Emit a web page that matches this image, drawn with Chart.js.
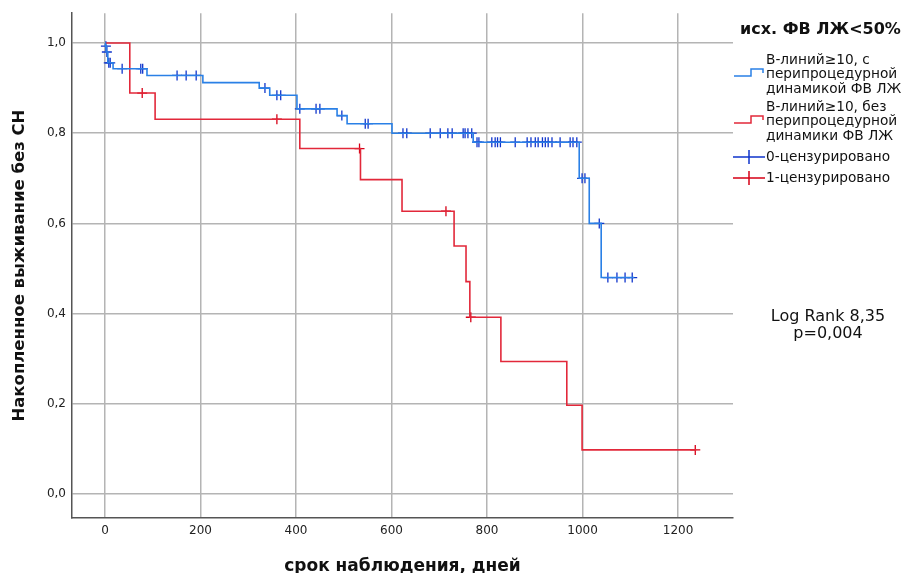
<!DOCTYPE html>
<html><head><meta charset="utf-8">
<script src="https://cdn.jsdelivr.net/npm/chart.js@4/dist/chart.umd.min.js"></script>
<style>html,body{margin:0;padding:0;background:#fff;}#wrap{width:905px;height:573px;}</style>
</head><body><div id="wrap"><canvas id="c" width="905" height="573"></canvas></div>
<script>
// ---- data ----
const xTicks = [0, 200, 400, 600, 800, 1000, 1200];
const yTicks = [0.0, 0.2, 0.4, 0.6, 0.8, 1.0];

const blueEventDays = [0, 1, 3, 6, 17, 88, 205, 323, 345, 402, 486, 507, 601, 771, 993, 1014, 1039];
const blueEventSurv = [1.0, 0.993, 0.98, 0.956, 0.943, 0.928, 0.912, 0.90, 0.884, 0.854, 0.839, 0.821, 0.80, 0.78, 0.70, 0.60, 0.48];
const blueEndDay = 1108;
const blueCensorDays = [2, 4, 8, 11, 36, 75, 79, 151, 170, 191, 335, 360, 368, 408, 442, 450, 496, 545, 551,
  624, 632, 681, 702, 718, 727, 750, 754, 760, 768,
  779, 783, 810, 817, 822, 828, 859, 884, 892, 901, 907, 916, 922, 928, 936, 953, 974, 980, 988,
  999, 1005, 1035, 1053, 1072, 1089, 1104];

const redEventDays = [0, 52, 105, 408, 535, 622, 731, 756, 764, 829, 967, 999];
const redEventSurv = [1.0, 0.889, 0.831, 0.766, 0.697, 0.627, 0.55, 0.471, 0.392, 0.294, 0.197, 0.098];
const redEndDay = 1238;
const redCensorDays = [78, 360, 533, 714, 766, 1236];

const legendTitle = 'исх. ФВ ЛЖ<50%';
const legendBlue = ['B-линий≥10, с', 'перипроцедурной', 'динамикой ФВ ЛЖ'];
const legendRed = ['B-линий≥10, без', 'перипроцедурной', 'динамики ФВ ЛЖ'];
const legendCens0 = '0-цензурировано';
const legendCens1 = '1-цензурировано';
const statLines = ['Log Rank 8,35', 'p=0,004'];

// ---- helpers ----
function survAt(days, surv, t) {
  let s = surv[0];
  for (let i = 0; i < days.length; i++) { if (days[i] <= t) s = surv[i]; }
  return s;
}
function curve(days, surv, end) {
  const pts = days.map((d, i) => ({x: d, y: surv[i]}));
  pts.push({x: end, y: surv[surv.length - 1]});
  return pts;
}
function censors(days, evDays, evSurv) {
  return days.map(d => ({x: d, y: survAt(evDays, evSurv, d)}));
}

const BLUE_LINE = '#2a80e6';
const BLUE_MARK = '#0f34cc';
const RED_LINE = '#e2283a';
const RED_MARK = '#d60016';
const FONT = "'DejaVu Sans','Liberation Sans',sans-serif";

const overlay = {
  id: 'overlay',
  afterDraw(chart) {
    const ctx = chart.ctx;
    ctx.save();
    ctx.fillStyle = '#111';
    ctx.textBaseline = 'middle';
    ctx.textAlign = 'left';
    ctx.font = 'bold 16px ' + FONT;
    ctx.fillText(legendTitle, 740, 30);
    ctx.font = '13.7px ' + FONT;
    const lh = 14.8;
    legendBlue.forEach((t, i) => ctx.fillText(t, 766, 60 + i * lh));
    legendRed.forEach((t, i) => ctx.fillText(t, 766, 107 + i * lh));
    ctx.fillText(legendCens0, 766, 157);
    ctx.fillText(legendCens1, 766, 178);
    // step icons
    ctx.lineWidth = 1.5;
    ctx.strokeStyle = BLUE_LINE;
    ctx.beginPath(); ctx.moveTo(734, 76); ctx.lineTo(751, 76); ctx.lineTo(751, 69); ctx.lineTo(763, 69); ctx.lineTo(763, 73); ctx.stroke();
    ctx.strokeStyle = RED_LINE;
    ctx.beginPath(); ctx.moveTo(734, 123); ctx.lineTo(751, 123); ctx.lineTo(751, 116); ctx.lineTo(763, 116); ctx.lineTo(763, 120); ctx.stroke();
    // cross icons
    ctx.strokeStyle = BLUE_MARK;
    ctx.beginPath(); ctx.moveTo(733, 157); ctx.lineTo(765, 157); ctx.moveTo(749, 150); ctx.lineTo(749, 164); ctx.stroke();
    ctx.strokeStyle = RED_MARK;
    ctx.beginPath(); ctx.moveTo(733, 178); ctx.lineTo(765, 178); ctx.moveTo(749, 171); ctx.lineTo(749, 185); ctx.stroke();
    // stats
    ctx.fillStyle = '#111';
    ctx.textAlign = 'center';
    ctx.font = '16px ' + FONT;
    ctx.fillText(statLines[0], 828, 317);
    ctx.fillText(statLines[1], 828, 334);
    ctx.restore();
  }
};

new Chart(document.getElementById('c'), {
  type: 'line',
  data: {
    datasets: [
      {data: curve(blueEventDays, blueEventSurv, blueEndDay), stepped: 'before', borderColor: BLUE_LINE, borderWidth: 1.6, pointRadius: 0, fill: false},
      {data: curve(redEventDays, redEventSurv, redEndDay), stepped: 'before', borderColor: RED_LINE, borderWidth: 1.6, pointRadius: 0, fill: false},
      {type: 'scatter', data: censors(blueCensorDays, blueEventDays, blueEventSurv), showLine: false, pointStyle: 'cross', pointRadius: 5, borderColor: BLUE_MARK, borderWidth: 1.3},
      {type: 'scatter', data: censors(redCensorDays, redEventDays, redEventSurv), showLine: false, pointStyle: 'cross', pointRadius: 5, borderColor: RED_MARK, borderWidth: 1.3}
    ]
  },
  options: {
    responsive: false,
    animation: false,
    layout: {padding: {left: 0, right: 172, top: 10, bottom: 0}},
    plugins: {legend: {display: false}, tooltip: {enabled: false}},
    scales: {
      x: {
        type: 'linear', min: -69, max: 1315,
        afterBuildTicks: s => { s.ticks = xTicks.map(v => ({value: v})); },
        afterFit: s => { s.height = 55; },
        ticks: {color: '#222', font: {size: 12, family: FONT}, padding: 6, callback: v => String(v)},
        grid: {color: '#b4b4b4', lineWidth: 1.5, drawTicks: false},
        border: {color: '#555', width: 1.5},
        title: {display: true, text: 'срок наблюдения, дней', color: '#111', font: {size: 17, weight: 'bold', family: FONT}, padding: {top: 0, bottom: -4}}
      },
      y: {
        type: 'linear', min: -0.053, max: 1.066,
        afterBuildTicks: s => { s.ticks = yTicks.map(v => ({value: v})); },
        afterFit: s => { s.width = 72; },
        ticks: {color: '#222', font: {size: 12, family: FONT}, padding: 6, callback: v => v.toFixed(1).replace('.', ',')},
        grid: {color: '#b4b4b4', lineWidth: 1.5, drawTicks: false},
        border: {color: '#555', width: 1.5},
        title: {display: true, text: 'Накопленное выживание без СН', color: '#111', font: {size: 16.5, weight: 'bold', family: FONT}, padding: {top: 10, bottom: 0}}
      }
    }
  },
  plugins: [overlay]
});
</script></body></html>
